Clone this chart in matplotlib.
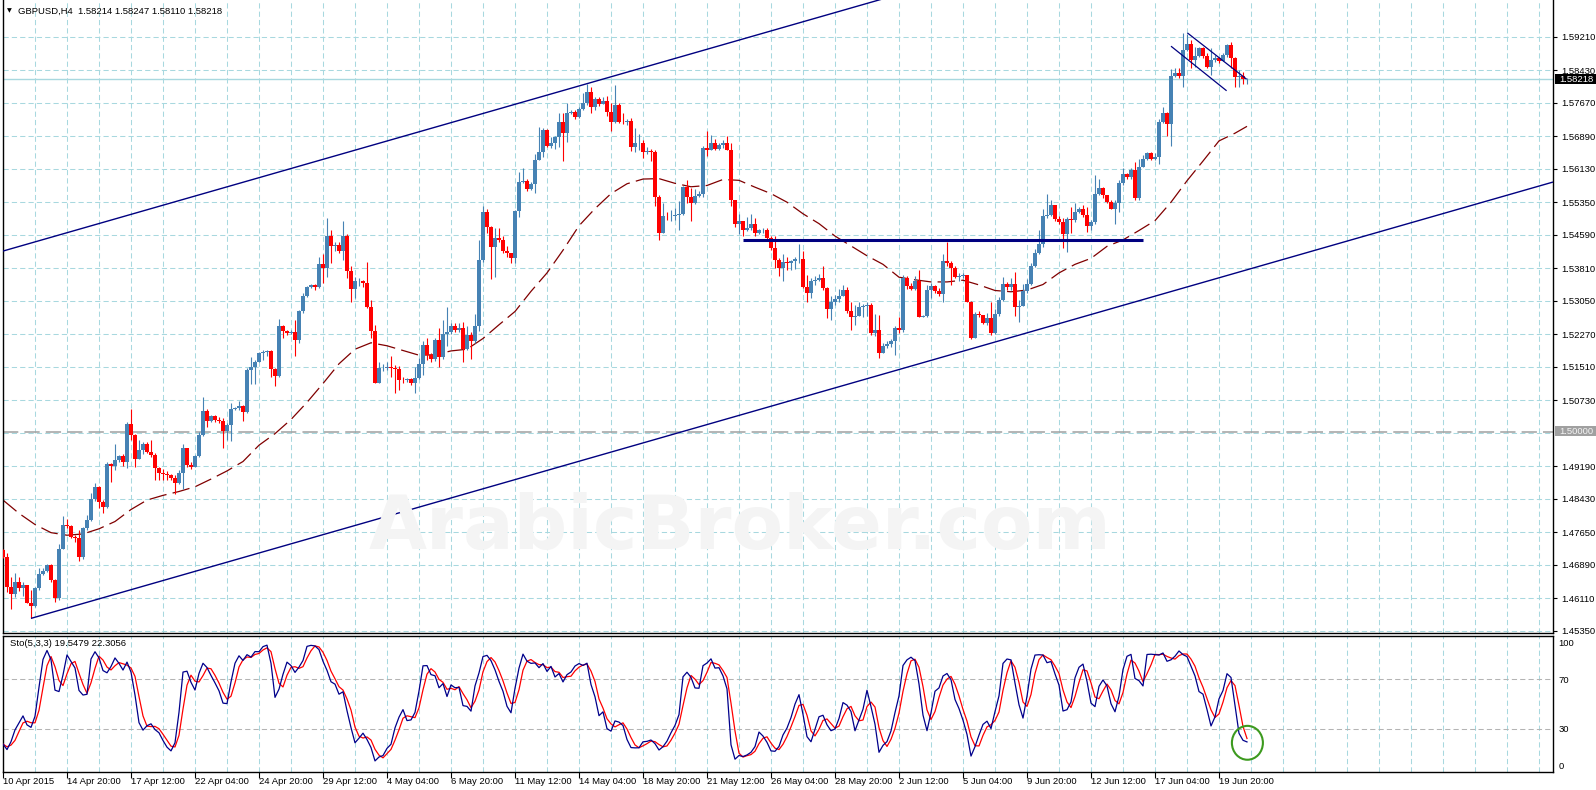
import numpy as np
import pandas as pd
import matplotlib
matplotlib.use('Agg')
import matplotlib.pyplot as plt
import matplotlib.transforms as mtransforms
from matplotlib.patches import Rectangle, Ellipse

plt.rcParams['font.family'] = ['Liberation Sans', 'DejaVu Sans']

# GBPUSD H4 bars (bar 0 = 10 Apr 2015)
first_open = 1.4723
closes = [
    1.4708, 1.4638, 1.4622, 1.4650, 1.4634, 1.4642, 1.4601, 1.4593, 1.4634, 1.4667,
    1.4675, 1.4688, 1.4653, 1.4611, 1.4727, 1.4782, 1.4779, 1.4755, 1.4751, 1.4708,
    1.4774, 1.4793, 1.4842, 1.4871, 1.4836, 1.4823, 1.4924, 1.4920, 1.4934, 1.4943,
    1.4930, 1.5018, 1.4992, 1.4937, 1.4957, 1.4971, 1.4953, 1.4945, 1.4914, 1.4904,
    1.4902, 1.4899, 1.4892, 1.4879, 1.4904, 1.4961, 1.4922, 1.4918, 1.4943, 1.4992,
    1.5048, 1.5025, 1.5035, 1.5027, 1.5025, 1.5002, 1.5015, 1.5052, 1.5055, 1.5060,
    1.5046, 1.5144, 1.5151, 1.5163, 1.5183, 1.5186, 1.5188, 1.5145, 1.5130, 1.5246,
    1.5235, 1.5229, 1.5233, 1.5214, 1.5280, 1.5316, 1.5336, 1.5342, 1.5336, 1.5391,
    1.5381, 1.5456, 1.5433, 1.5435, 1.5422, 1.5455, 1.5375, 1.5332, 1.5350, 1.5352,
    1.5347, 1.5290, 1.5235, 1.5114, 1.5147, 1.5149, 1.5151, 1.5147, 1.5145, 1.5120,
    1.5119, 1.5122, 1.5114, 1.5124, 1.5157, 1.5202, 1.5178, 1.5168, 1.5214, 1.5173,
    1.5227, 1.5233, 1.5245, 1.5237, 1.5241, 1.5192, 1.5225, 1.5210, 1.5245, 1.5400,
    1.5513, 1.5478, 1.5430, 1.5451, 1.5447, 1.5422, 1.5416, 1.5404, 1.5515, 1.5583,
    1.5585, 1.5565, 1.5578, 1.5634, 1.5653, 1.5704, 1.5666, 1.5672, 1.5686, 1.5723,
    1.5696, 1.5744, 1.5746, 1.5733, 1.5752, 1.5766, 1.5793, 1.5757, 1.5775, 1.5764,
    1.5772, 1.5746, 1.5721, 1.5762, 1.5723, 1.5721, 1.5725, 1.5663, 1.5672, 1.5674,
    1.5651, 1.5655, 1.5653, 1.5546, 1.5464, 1.5503, 1.5502, 1.5503, 1.5505, 1.5508,
    1.5570, 1.5548, 1.5534, 1.5550, 1.5555, 1.5661, 1.5656, 1.5674, 1.5659, 1.5669,
    1.5673, 1.5657, 1.5539, 1.5485, 1.5490, 1.5469, 1.5474, 1.5485, 1.5464, 1.5469,
    1.5470, 1.5451, 1.5429, 1.5400, 1.5381, 1.5395, 1.5393, 1.5397, 1.5402, 1.5403,
    1.5338, 1.5324, 1.5350, 1.5354, 1.5358, 1.5334, 1.5285, 1.5303, 1.5309, 1.5315,
    1.5329, 1.5280, 1.5267, 1.5270, 1.5290, 1.5293, 1.5294, 1.5229, 1.5237, 1.5184,
    1.5200, 1.5205, 1.5210, 1.5241, 1.5236, 1.5358, 1.5340, 1.5332, 1.5350, 1.5268,
    1.5270, 1.5331, 1.5340, 1.5327, 1.5321, 1.5397, 1.5393, 1.5381, 1.5360, 1.5362,
    1.5366, 1.5303, 1.5217, 1.5275, 1.5271, 1.5252, 1.5264, 1.5229, 1.5275, 1.5306,
    1.5345, 1.5336, 1.5344, 1.5291, 1.5292, 1.5328, 1.5345, 1.5386, 1.5417, 1.5437,
    1.5503, 1.5505, 1.5528, 1.5495, 1.5489, 1.5461, 1.5495, 1.5493, 1.5513, 1.5518,
    1.5505, 1.5479, 1.5489, 1.5554, 1.5567, 1.5552, 1.5536, 1.5520, 1.5534, 1.5580,
    1.5601, 1.5593, 1.5610, 1.5544, 1.5618, 1.5635, 1.5649, 1.5635, 1.5641, 1.5723,
    1.5742, 1.5717, 1.5829, 1.5837, 1.5829, 1.5890, 1.5904, 1.5867, 1.5876, 1.5894,
    1.5876, 1.5851, 1.5867, 1.5871, 1.5865, 1.5878, 1.5902, 1.5871, 1.5826, 1.5829,
    1.58214, 1.58218,
]
highs = [
    1.4727, 1.4717, 1.4661, 1.4669, 1.4660, 1.4650, 1.4642, 1.4630, 1.4638, 1.4681,
    1.4681, 1.4692, 1.4691, 1.4655, 1.4737, 1.4803, 1.4797, 1.4782, 1.4758, 1.4770,
    1.4778, 1.4805, 1.4856, 1.4879, 1.4873, 1.4840, 1.4930, 1.4926, 1.4971, 1.4945,
    1.4948, 1.5021, 1.5052, 1.4994, 1.4980, 1.4976, 1.4976, 1.4980, 1.4949, 1.4918,
    1.4912, 1.4909, 1.4902, 1.4899, 1.4910, 1.4972, 1.4961, 1.4930, 1.4945, 1.5000,
    1.5081, 1.5052, 1.5039, 1.5039, 1.5033, 1.5031, 1.5019, 1.5066, 1.5058, 1.5070,
    1.5062, 1.5147, 1.5173, 1.5167, 1.5186, 1.5189, 1.5191, 1.5189, 1.5147, 1.5262,
    1.5249, 1.5237, 1.5237, 1.5260, 1.5284, 1.5322, 1.5340, 1.5344, 1.5344, 1.5407,
    1.5414, 1.5498, 1.5470, 1.5443, 1.5443, 1.5491, 1.5461, 1.5386, 1.5361, 1.5357,
    1.5354, 1.5396, 1.5307, 1.5248, 1.5161, 1.5157, 1.5163, 1.5175, 1.5155, 1.5153,
    1.5128, 1.5124, 1.5124, 1.5151, 1.5171, 1.5210, 1.5219, 1.5182, 1.5217, 1.5241,
    1.5260, 1.5290, 1.5252, 1.5254, 1.5252, 1.5256, 1.5246, 1.5233, 1.5273, 1.5447,
    1.5525, 1.5518, 1.5480, 1.5474, 1.5474, 1.5455, 1.5433, 1.5417, 1.5517, 1.5606,
    1.5614, 1.5588, 1.5581, 1.5648, 1.5711, 1.5708, 1.5705, 1.5688, 1.5690, 1.5744,
    1.5743, 1.5767, 1.5750, 1.5750, 1.5758, 1.5789, 1.5811, 1.5803, 1.5780, 1.5780,
    1.5781, 1.5783, 1.5766, 1.5809, 1.5766, 1.5744, 1.5729, 1.5731, 1.5708, 1.5694,
    1.5679, 1.5663, 1.5659, 1.5656, 1.5552, 1.5533, 1.5513, 1.5517, 1.5521, 1.5537,
    1.5573, 1.5587, 1.5568, 1.5565, 1.5560, 1.5665, 1.5700, 1.5692, 1.5682, 1.5674,
    1.5681, 1.5690, 1.5674, 1.5539, 1.5508, 1.5486, 1.5500, 1.5508, 1.5498, 1.5472,
    1.5474, 1.5474, 1.5455, 1.5457, 1.5404, 1.5415, 1.5408, 1.5401, 1.5407, 1.5438,
    1.5420, 1.5366, 1.5358, 1.5363, 1.5368, 1.5387, 1.5338, 1.5315, 1.5319, 1.5332,
    1.5342, 1.5338, 1.5303, 1.5296, 1.5303, 1.5298, 1.5303, 1.5299, 1.5275, 1.5272,
    1.5206, 1.5210, 1.5215, 1.5247, 1.5268, 1.5366, 1.5362, 1.5346, 1.5362, 1.5376,
    1.5272, 1.5342, 1.5346, 1.5342, 1.5334, 1.5415, 1.5443, 1.5397, 1.5385, 1.5369,
    1.5369, 1.5366, 1.5305, 1.5279, 1.5282, 1.5261, 1.5277, 1.5303, 1.5285, 1.5314,
    1.5361, 1.5349, 1.5359, 1.5373, 1.5306, 1.5345, 1.5355, 1.5394, 1.5425, 1.5470,
    1.5518, 1.5554, 1.5540, 1.5528, 1.5503, 1.5497, 1.5501, 1.5523, 1.5532, 1.5523,
    1.5528, 1.5524, 1.5493, 1.5598, 1.5588, 1.5571, 1.5552, 1.5540, 1.5540, 1.5587,
    1.5614, 1.5602, 1.5614, 1.5629, 1.5635, 1.5645, 1.5653, 1.5653, 1.5649, 1.5728,
    1.5756, 1.5746, 1.5845, 1.5847, 1.5847, 1.5929, 1.5927, 1.5913, 1.5896, 1.5896,
    1.5898, 1.5882, 1.5894, 1.5878, 1.5874, 1.5884, 1.5904, 1.5909, 1.5873, 1.5843,
    1.5839, 1.58247,
]
lows = [
    1.4704, 1.4626, 1.4587, 1.4615, 1.4629, 1.4616, 1.4599, 1.4564, 1.4590, 1.4630,
    1.4665, 1.4673, 1.4650, 1.4603, 1.4608, 1.4727, 1.4774, 1.4751, 1.4743, 1.4699,
    1.4702, 1.4770, 1.4792, 1.4839, 1.4821, 1.4811, 1.4821, 1.4883, 1.4910, 1.4930,
    1.4920, 1.4916, 1.4980, 1.4918, 1.4935, 1.4948, 1.4949, 1.4941, 1.4888, 1.4888,
    1.4888, 1.4888, 1.4888, 1.4854, 1.4877, 1.4865, 1.4918, 1.4912, 1.4918, 1.4940,
    1.4989, 1.5011, 1.5023, 1.5023, 1.5019, 1.4961, 1.4980, 1.4979, 1.5049, 1.5050,
    1.5025, 1.5044, 1.5111, 1.5111, 1.5161, 1.5167, 1.5175, 1.5128, 1.5105, 1.5126,
    1.5217, 1.5225, 1.5228, 1.5175, 1.5206, 1.5277, 1.5313, 1.5334, 1.5330, 1.5334,
    1.5346, 1.5361, 1.5394, 1.5422, 1.5416, 1.5400, 1.5357, 1.5303, 1.5311, 1.5340,
    1.5336, 1.5287, 1.5217, 1.5114, 1.5114, 1.5142, 1.5143, 1.5128, 1.5089, 1.5097,
    1.5114, 1.5115, 1.5108, 1.5089, 1.5122, 1.5132, 1.5167, 1.5163, 1.5165, 1.5150,
    1.5168, 1.5199, 1.5227, 1.5231, 1.5233, 1.5163, 1.5190, 1.5168, 1.5207, 1.5235,
    1.5396, 1.5462, 1.5355, 1.5360, 1.5441, 1.5417, 1.5408, 1.5392, 1.5392, 1.5501,
    1.5579, 1.5562, 1.5564, 1.5556, 1.5634, 1.5641, 1.5663, 1.5661, 1.5659, 1.5663,
    1.5632, 1.5676, 1.5741, 1.5729, 1.5731, 1.5749, 1.5762, 1.5743, 1.5750, 1.5760,
    1.5767, 1.5735, 1.5700, 1.5719, 1.5719, 1.5718, 1.5715, 1.5655, 1.5651, 1.5657,
    1.5637, 1.5648, 1.5630, 1.5527, 1.5446, 1.5463, 1.5494, 1.5492, 1.5494, 1.5471,
    1.5506, 1.5533, 1.5492, 1.5531, 1.5547, 1.5547, 1.5643, 1.5656, 1.5656, 1.5657,
    1.5661, 1.5656, 1.5527, 1.5477, 1.5461, 1.5457, 1.5467, 1.5471, 1.5455, 1.5461,
    1.5464, 1.5449, 1.5424, 1.5381, 1.5362, 1.5352, 1.5377, 1.5377, 1.5379, 1.5394,
    1.5334, 1.5303, 1.5311, 1.5342, 1.5350, 1.5329, 1.5264, 1.5261, 1.5296, 1.5303,
    1.5315, 1.5276, 1.5237, 1.5249, 1.5270, 1.5267, 1.5270, 1.5225, 1.5223, 1.5171,
    1.5184, 1.5194, 1.5198, 1.5179, 1.5229, 1.5233, 1.5332, 1.5329, 1.5331, 1.5267,
    1.5267, 1.5267, 1.5311, 1.5323, 1.5315, 1.5303, 1.5385, 1.5342, 1.5358, 1.5350,
    1.5358, 1.5301, 1.5215, 1.5217, 1.5268, 1.5250, 1.5248, 1.5225, 1.5227, 1.5269,
    1.5305, 1.5331, 1.5331, 1.5269, 1.5256, 1.5322, 1.5324, 1.5341, 1.5384, 1.5415,
    1.5431, 1.5499, 1.5503, 1.5492, 1.5484, 1.5427, 1.5419, 1.5462, 1.5489, 1.5509,
    1.5501, 1.5466, 1.5470, 1.5485, 1.5552, 1.5544, 1.5532, 1.5518, 1.5485, 1.5513,
    1.5575, 1.5588, 1.5590, 1.5541, 1.5540, 1.5616, 1.5633, 1.5633, 1.5633, 1.5624,
    1.5719, 1.5689, 1.5666, 1.5826, 1.5824, 1.5804, 1.5888, 1.5847, 1.5850, 1.5873,
    1.5871, 1.5847, 1.5832, 1.5863, 1.5860, 1.5867, 1.5874, 1.5847, 1.5804, 1.5804,
    1.5811, 1.58110,
]

# moving average (dashed dark red), read every 4 bars
ma_bars = list(range(0, 312, 4)) + [311]
ma_vals = [
    1.4840, 1.4809, 1.4783, 1.4764, 1.4758, 1.4761, 1.4773, 1.4790, 1.4818, 1.4840,
    1.4851, 1.4860, 1.4871, 1.4889, 1.4908, 1.4930, 1.4968, 1.4995, 1.5028, 1.5068,
    1.5112, 1.5158, 1.5192, 1.5207, 1.5200, 1.5189, 1.5178, 1.5179, 1.5188, 1.5192,
    1.5217, 1.5249, 1.5280, 1.5327, 1.5370, 1.5423, 1.5480, 1.5520, 1.5555, 1.5578,
    1.5589, 1.5590, 1.5579, 1.5571, 1.5574, 1.5588, 1.5586, 1.5570, 1.5555, 1.5535,
    1.5508, 1.5485, 1.5456, 1.5433, 1.5410, 1.5390, 1.5360, 1.5354, 1.5349, 1.5349,
    1.5353, 1.5342, 1.5329, 1.5326, 1.5330, 1.5343, 1.5370, 1.5390, 1.5404, 1.5432,
    1.5447, 1.5469, 1.5492, 1.5535, 1.5585, 1.5631, 1.5678, 1.5696, 1.5712,
]

time_labels = ['10 Apr 2015', '14 Apr 20:00', '17 Apr 12:00', '22 Apr 04:00', '24 Apr 20:00',
               '29 Apr 12:00', '4 May 04:00', '6 May 20:00', '11 May 12:00', '14 May 04:00',
               '18 May 20:00', '21 May 12:00', '26 May 04:00', '28 May 20:00', '2 Jun 12:00',
               '5 Jun 04:00', '9 Jun 20:00', '12 Jun 12:00', '17 Jun 04:00', '19 Jun 20:00']
price_ticks = [1.59210, 1.58430, 1.57670, 1.56890, 1.56130, 1.55350, 1.54590, 1.53810,
               1.53050, 1.52270, 1.51510, 1.50730, 1.49190, 1.48430, 1.47650, 1.46890,
               1.46110, 1.45350]
hidden_grid = [1.49960]
sto_levels = [100, 70, 30, 0]

# trend lines (bar, price)
upper_channel = [(0, 1.5421), (240, 1.6063)]
lower_channel = [(7, 1.4564), (387.5, 1.5582)]
neckline = [(185, 1.5447), (285, 1.5447)]
flag_top = [(296.1, 1.5930), (310.9, 1.5822)]
flag_bottom = [(292, 1.5899), (305.9, 1.5795)]

closes = np.array(closes)
opens = np.concatenate([[first_open], closes[:-1]])
highs = np.maximum(np.array(highs), np.maximum(opens, closes))
lows = np.minimum(np.array(lows), np.minimum(opens, closes))
bars = np.arange(len(closes))

# Stochastic (5,3,3)
c = pd.Series(closes)
ll = pd.Series(lows).rolling(5, min_periods=1).min()
hh = pd.Series(highs).rolling(5, min_periods=1).max()
k_line = 100 * (c - ll).rolling(3, min_periods=1).sum() / (hh - ll).rolling(3, min_periods=1).sum()
d_line = k_line.rolling(3, min_periods=1).mean()

W, H = 1596, 790
def box(x0, y0, x1, y1):
    return [x0 / W, 1 - y1 / H, (x1 - x0) / W, (y1 - y0) / H]

fig = plt.figure(figsize=(W / 100, H / 100), dpi=100, facecolor='white')
ax = fig.add_axes(box(3, 0, 1553, 633))
ax_s = fig.add_axes(box(3, 636, 1553, 772))

grid_col = '#A8D8DF'
grid_ls = (0, (5, 3))
fs = 6.8
xmax = (1553 - 3) / 4

for a in (ax, ax_s):
    a.set_xlim(0, xmax)
    for gx in range(8, int(xmax) + 1, 8):
        a.axvline(gx, color=grid_col, lw=0.75, ls=grid_ls, zorder=0)
    for s in a.spines.values():
        s.set_color('black')
        s.set_linewidth(1.0)
    a.set_facecolor('white')

ax.spines['top'].set_visible(False)
ax.set_ylim(1.5 - 201.5 / 4286, 1.5 + 431.5 / 4286)
for p in price_ticks + hidden_grid:
    ax.axhline(p, color=grid_col, lw=0.75, ls=grid_ls, zorder=0)

# watermark
fig.text(740 / W, 1 - 528 / H, 'ArabicBroker.com', fontsize=54, fontweight='bold',
         family='DejaVu Sans', color='#F4F4F4', ha='center', va='center', zorder=0)

# 1.5 level and bid line
ax.axhline(1.5, color='#A0A0A0', lw=1.1, ls=(0, (10, 4)), zorder=1)
ax.axhline(closes[-1], color='#A8D8DF', lw=1.0, zorder=1)

# moving average
ax.plot(ma_bars, ma_vals, color='#800000', lw=0.9, ls=(0, (14, 5)), zorder=2)

# candles
up = closes >= opens
colors = np.where(up, '#4682B4', '#FF0000')
ax.vlines(bars, lows, highs, colors=colors, lw=0.8, zorder=3)
body = np.maximum(np.abs(closes - opens), 0.00004)
ax.bar(bars, body, bottom=np.minimum(opens, closes), width=0.78, color=colors,
       linewidth=0, zorder=4)

# drawn lines
navy = '#000080'
for seg, lw in [(upper_channel, 1.0), (lower_channel, 1.0), (neckline, 2.2),
                (flag_top, 0.9), (flag_bottom, 0.9)]:
    xs, ys = zip(*seg)
    ax.plot(xs, ys, color=navy, lw=lw, zorder=5, solid_capstyle='butt')

# right price axis
ax.yaxis.tick_right()
ax.set_yticks(price_ticks)
ax.set_yticklabels(['%.5f' % p for p in price_ticks])
ax.tick_params(axis='y', length=3, width=0.8, pad=3, labelsize=fs, colors='black')
ax.set_xticks([])

# price boxes
fig.add_artist(Rectangle((1555 / W, 1 - 84 / H), 41 / W, 10 / H, transform=fig.transFigure,
                         facecolor='black', edgecolor='none'))
fig.text(1559 / W, 1 - 79 / H, '%.5f' % closes[-1], color='white', fontsize=fs, va='center')
fig.add_artist(Rectangle((1555 / W, 1 - 436 / H), 41 / W, 10 / H, transform=fig.transFigure,
                         facecolor='#A0A0A0', edgecolor='none'))
fig.text(1559 / W, 1 - 431 / H, '1.50000', color='#F4F4F4', fontsize=fs, va='center')

# header
fig.text(7 / W, 1 - 11 / H, '\u25bc', fontsize=4.5, va='center', family='DejaVu Sans')
fig.text(18 / W, 1 - 11 / H, 'GBPUSD,H4  1.58214 1.58247 1.58110 1.58218', fontsize=fs,
         va='center')

# stochastic panel
ax_s.set_ylim(-5.3, 105.1)
for lv in (70, 30):
    ax_s.axhline(lv, color='#B4B4B4', lw=0.75, ls=grid_ls, zorder=0)
ax_s.plot(bars, d_line, color='#FF0000', lw=0.9, zorder=3)
ax_s.plot(bars, k_line, color='#00008B', lw=0.9, zorder=4)
ax_s.yaxis.tick_right()
ax_s.set_yticks(sto_levels)
ax_s.set_yticklabels([str(v) for v in sto_levels])
ax_s.tick_params(axis='y', length=0, pad=4, labelsize=fs, colors='black')
ax_s.text(7 / 1550, 1 - 8 / 136, 'Sto(5,3,3) 19.5479 22.3056', transform=ax_s.transAxes,
          fontsize=fs, va='center')

ax_s.set_xticks(range(0, 16 * len(time_labels), 16))
ax_s.set_xticklabels([])
ax_s.tick_params(axis='x', length=4, width=0.8, direction='out', colors='black')
trans = mtransforms.blended_transform_factory(ax_s.transData, ax_s.transAxes)
for i, lab in enumerate(time_labels):
    ax_s.text(16 * i, -10 / 136, lab, transform=trans, fontsize=fs, ha='left', va='center')

ax_s.add_patch(Ellipse((311.1, 18.4), 7.75, 27.5, fill=False, edgecolor='#3C9A1E', lw=1.5,
                       clip_on=False, zorder=6))

fig.savefig('out.png', dpi=100, facecolor='white')
